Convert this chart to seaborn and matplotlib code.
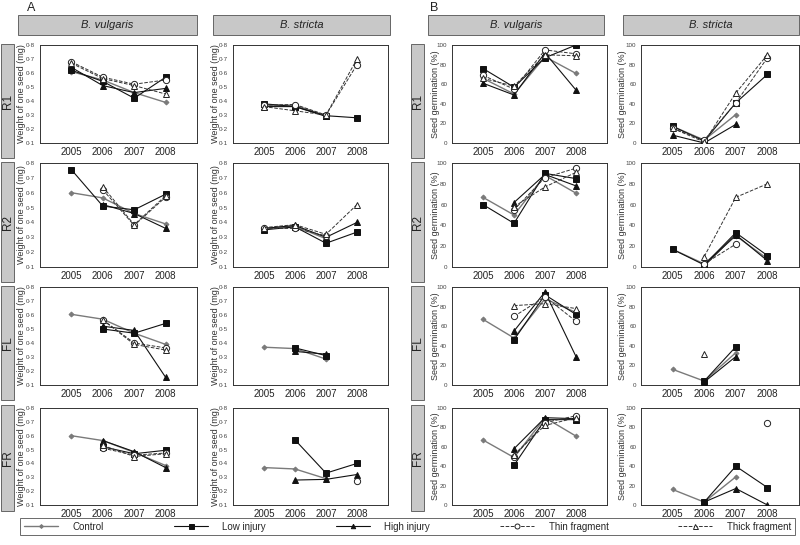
import numpy as np
import pandas as pd
import matplotlib
matplotlib.use("Agg")
import matplotlib.pyplot as plt
from matplotlib.patches import Rectangle
from matplotlib.lines import Line2D
from matplotlib.ticker import FuncFormatter
import seaborn as sns

sns.set_style("white")
plt.rcParams['font.family'] = ['Liberation Sans', 'DejaVu Sans']

N = np.nan
years = [2005, 2006, 2007, 2008]
treatments = ["Control", "Low injury", "High injury", "Thin fragment", "Thick fragment"]
species = ["B. vulgaris", "B. stricta"]
sites = ["R1", "R2", "FL", "FR"]

# rows: control, low, high, thin, thick ; columns: 2005..2008
weight_vulgaris_R1 = [[0.61, 0.55, 0.46, 0.39], [0.62, 0.54, 0.42, 0.57], [0.64, 0.51, 0.46, 0.49],
                      [0.68, 0.57, 0.52, 0.55], [0.67, 0.56, 0.51, 0.45]]
weight_stricta_R1 = [[0.37, 0.37, 0.295, N], [0.38, 0.36, 0.295, 0.28], [0.36, 0.36, 0.29, N],
                     [0.37, 0.375, 0.30, 0.66], [0.36, 0.33, 0.30, 0.70]]
weight_vulgaris_R2 = [[0.60, 0.565, 0.46, 0.39], [0.755, 0.51, 0.485, 0.59], [N, 0.52, 0.46, 0.36],
                      [N, 0.62, 0.38, 0.57], [N, 0.64, 0.385, 0.58]]
weight_stricta_R2 = [[0.36, 0.375, 0.29, N], [0.35, 0.37, 0.26, 0.335], [0.36, 0.38, 0.30, 0.40],
                     [0.36, 0.36, 0.31, N], [0.365, 0.385, 0.32, 0.52]]
weight_vulgaris_FL = [[0.605, 0.57, 0.47, 0.39], [N, 0.50, 0.47, 0.54], [N, 0.52, 0.49, 0.155],
                      [N, 0.565, 0.40, 0.365], [N, 0.565, 0.39, 0.35]]
weight_stricta_FL = [[0.37, 0.36, 0.285, N], [N, 0.365, 0.31, N], [N, 0.34, 0.32, N],
                     [N, N, N, N], [N, N, N, N]]
weight_vulgaris_FR = [[0.60, 0.565, 0.48, 0.385], [N, 0.52, 0.47, 0.495], [N, 0.565, 0.485, 0.37],
                      [N, 0.51, 0.46, 0.475], [N, 0.53, 0.45, 0.47]]
weight_stricta_FR = [[0.37, 0.36, 0.29, N], [N, 0.57, 0.33, 0.40], [N, 0.28, 0.285, 0.32],
                     [N, N, N, 0.27], [N, N, N, N]]

germ_vulgaris_R1 = [[66, 50, 88, 71], [76, 57, 87, 100], [61, 49, 92, 54], [69, 55, 95, 91], [66, 58, 90, 89]]
germ_stricta_R1 = [[17, 3, 29, N], [17, 2, 41, 70], [8, 0, 19, N], [15, 3, 41, 87], [15, 1, 51, 90]]
germ_vulgaris_R2 = [[67, 50, 88, 71], [60, 42, 90, 85], [N, 62, 89, 78], [N, 55, 86, 95], [N, 58, 77, 91]]
germ_stricta_R2 = [[17, 3, 30, 8], [17, 2, 33, 11], [N, 1, 31, 6], [N, 3, 22, N], [N, 10, 67, 80]]
germ_vulgaris_FL = [[67, 48, 88, 74], [N, 46, 92, 72], [N, 55, 95, 29], [N, 70, 90, 65], [N, 81, 83, 78]]
germ_stricta_FL = [[16, 4, 33, N], [N, 4, 39, N], [N, 3, 29, N], [N, N, N, N], [N, 32, N, N]]
germ_vulgaris_FR = [[67, 49, 90, 71], [N, 41, 88, 88], [N, 58, 90, 89], [N, 50, 85, 92], [N, 52, 82, 90]]
germ_stricta_FR = [[16, 3, 29, N], [N, 3, 40, 18], [N, 3, 17, 0], [N, N, N, 85], [N, N, N, N]]

weight_panels = [[weight_vulgaris_R1, weight_stricta_R1], [weight_vulgaris_R2, weight_stricta_R2],
                 [weight_vulgaris_FL, weight_stricta_FL], [weight_vulgaris_FR, weight_stricta_FR]]
germ_panels = [[germ_vulgaris_R1, germ_stricta_R1], [germ_vulgaris_R2, germ_stricta_R2],
               [germ_vulgaris_FL, germ_stricta_FL], [germ_vulgaris_FR, germ_stricta_FR]]

styles = [
    dict(color="#7a7a7a", marker="D", markersize=2.5, linestyle="-", lw=1.0, mfc="#7a7a7a", mec="#7a7a7a"),
    dict(color="#111111", marker="s", markersize=4.5, linestyle="-", lw=0.8, mfc="#111111", mec="#111111"),
    dict(color="#111111", marker="^", markersize=4, linestyle="-", lw=0.8, mfc="#111111", mec="#111111"),
    dict(color="#333333", marker="o", markersize=4.5, linestyle="--", lw=0.7, mfc="white", mec="#222222"),
    dict(color="#333333", marker="^", markersize=4.5, linestyle="--", lw=0.7, mfc="white", mec="#222222"),
]

W, H = 800, 545
fig = plt.figure(figsize=(W / 100, H / 100), dpi=100)

def fx(x): return x / W
def fy(y): return 1 - y / H

col_x = [(40, 197), (233, 388), (452, 607), (641, 799)]
row_y = [(45, 143), (163, 267), (287, 385), (408, 505)]
ylabel_offset_px = [-14, -13, -12, -14]

def dotfmt(v, pos):
    return ("%.1f" % v).replace(".", "\u00b7")

for r in range(4):
    for c in range(4):
        x0, x1 = col_x[c]
        y0, y1 = row_y[r]
        ax = fig.add_axes([fx(x0), fy(y1), (x1 - x0) / W, (y1 - y0) / H])
        is_weight = c < 2
        panel = weight_panels[r][c % 2] if is_weight else germ_panels[r][c % 2]
        for t, vals in enumerate(panel):
            df = pd.DataFrame({"year": years, "value": vals}).dropna()
            if len(df) == 0:
                continue
            st = styles[t]
            sns.lineplot(data=df, x="year", y="value", ax=ax, color=st["color"], marker=st["marker"],
                         markersize=st["markersize"], linestyle=st["linestyle"], linewidth=st["lw"],
                         markerfacecolor=st["mfc"], markeredgecolor=st["mec"], markeredgewidth=0.7,
                         zorder=3 + t)
        ax.set_xlim(2004, 2009)
        ax.set_xticks(years)
        ax.set_xticklabels([str(y) for y in years], fontsize=7, color="#222222")
        if is_weight:
            ax.set_ylim(0.1, 0.8)
            ax.set_yticks(np.arange(0.1, 0.81, 0.1))
            ax.yaxis.set_major_formatter(FuncFormatter(dotfmt))
            ax.set_ylabel("Weight of one seed (mg)", fontsize=6.5, color="#333333")
        else:
            ax.set_ylim(0, 100)
            ax.set_yticks([0, 20, 40, 60, 80, 100])
            ax.set_ylabel("Seed germination (%)", fontsize=6.5, color="#333333")
        ax.yaxis.set_label_coords(ylabel_offset_px[c] / (x1 - x0), 0.5)
        ax.tick_params(axis="y", labelsize=4.5, length=2, width=0.5, direction="out", pad=1.5, colors="#444444")
        ax.tick_params(axis="x", length=2.5, width=0.5, direction="in", pad=3)
        ax.set_xlabel("")
        for s in ax.spines.values():
            s.set_linewidth(0.7)
            s.set_color("#333333")

# strip headers
header_x = [(18, 197), (213, 390), (428, 604), (623, 799)]
for i, (a, b) in enumerate(header_x):
    fig.add_artist(Rectangle((fx(a), fy(35)), (b - a) / W, 20 / H, transform=fig.transFigure,
                             facecolor="#c8c8c8", edgecolor="#666666", lw=0.7))
    fig.text(fx((a + b) / 2), fy(25), species[i % 2], ha="center", va="center",
             fontsize=8, style="italic", color="#222222")

# row labels
row_box_y = [(44, 158), (162, 282), (286, 400), (405, 511)]
for xa, xb in [(1, 14), (411, 424)]:
    for r, (a, b) in enumerate(row_box_y):
        fig.add_artist(Rectangle((fx(xa), fy(b)), (xb - xa) / W, (b - a) / H, transform=fig.transFigure,
                                 facecolor="#c8c8c8", edgecolor="#666666", lw=0.7))
        fig.text(fx((xa + xb) / 2), fy((a + b) / 2), sites[r], ha="center", va="center",
                 fontsize=8.5, rotation=90, color="#222222")

fig.text(fx(27), fy(8), "A", fontsize=9, ha="left", va="center", color="#222222")
fig.text(fx(430), fy(8), "B", fontsize=9, ha="left", va="center", color="#222222")

handles = [Line2D([0], [0], color=st["color"], marker=st["marker"], markersize=st["markersize"] * 0.8,
                  linestyle=st["linestyle"], lw=st["lw"], markerfacecolor=st["mfc"],
                  markeredgecolor=st["mec"], markeredgewidth=0.7) for st in styles]
leg = fig.legend(handles, treatments, loc="center", ncol=5, mode="expand",
                 bbox_to_anchor=(fx(20), fy(540), 775 / W, 27 / H), fontsize=7,
                 frameon=True, fancybox=False, handlelength=3.5, handletextpad=1.5,
                 borderaxespad=0)
leg.get_frame().set_edgecolor("#444444")
leg.get_frame().set_linewidth(0.7)

fig.savefig("out.png", dpi=100)
